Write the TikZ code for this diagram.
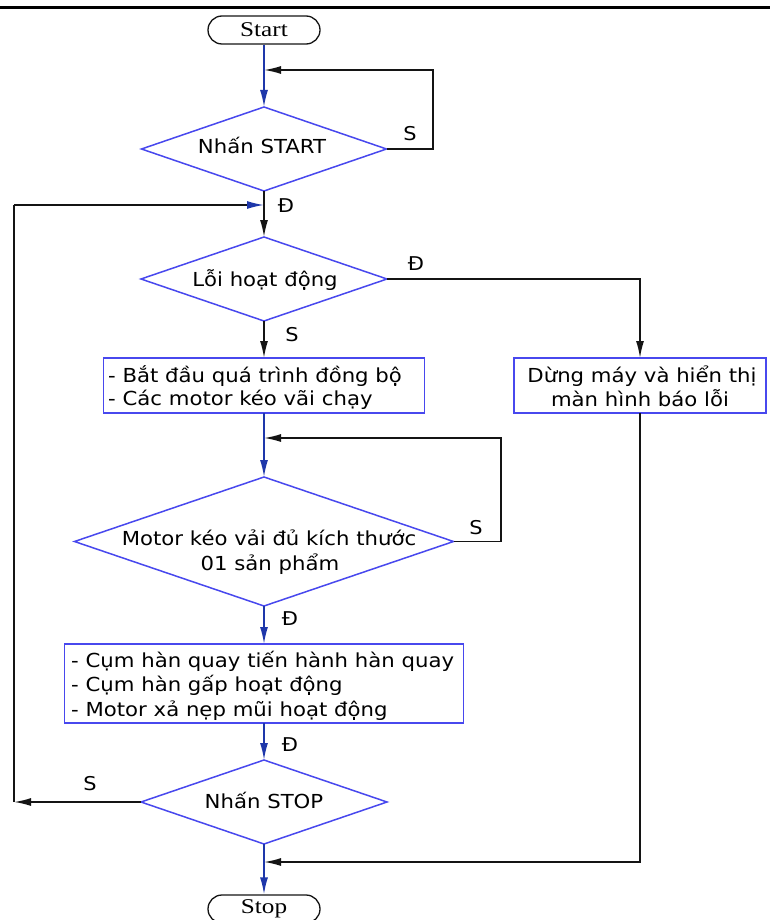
\documentclass[tikz,border=0pt]{standalone}
\usepackage{fontspec}
\setmainfont{DejaVu Sans}[FakeStretch=1.1]
\newfontfamily\termfont{Liberation Serif}[FakeStretch=1.2]
\usetikzlibrary{shapes.geometric,shapes.misc,arrows.meta}
\definecolor{lineblue}{RGB}{30,55,170}
\definecolor{shapeblue}{RGB}{72,72,238}
\definecolor{darkline}{RGB}{20,20,20}
\begin{document}
\begin{tikzpicture}[x=1pt,y=-1pt,
  txt/.style={font=\fontsize{19.3}{24}\selectfont, inner sep=0pt, text=black},
  lbl/.style={font=\fontsize{19}{22}\selectfont, inner sep=0pt, text=black},
  term/.style={rounded rectangle, draw=darkline, line width=1.3pt, fill=white, minimum width=112pt, minimum height=28pt, inner sep=0pt, font=\termfont\fontsize{21}{24}\selectfont},
  dia/.style={diamond, draw=shapeblue, line width=1.5pt, inner sep=0pt, outer sep=0pt},
  proc/.style={rectangle, draw=shapeblue, line width=1.5pt, inner sep=0pt, outer sep=0pt},
  flow/.style={draw=lineblue, line width=1.6pt, -{Latex[length=17pt,width=8pt]}},
  back/.style={draw=darkline, line width=1.6pt},
  tip/.style={-{Latex[length=17pt,width=8pt]}},
]
\fill[white] (0,0) rectangle (770,920);
\useasboundingbox (0,0) rectangle (770,920);
\clip (0,0) rectangle (770,920);
\draw[line width=3pt, black] (0,8) -- (770,8);

% nodes
\node[term] (start) at (264,30) {Start};
\node[dia, minimum width=245pt, minimum height=84pt] (d1) at (264,149) {};
\node[txt, anchor=base] (d1t) at (262,154) {Nhấn START};
\node[dia, minimum width=246pt, minimum height=84pt] (d2) at (264,279) {};
\node[txt, anchor=base] (d2t) at (265,286) {Lỗi hoạt động};
\node[proc, minimum width=321pt, minimum height=55pt] (b1) at (264,385.5) {};
\node[txt, anchor=base west] (b1a) at (108,382) {- Bắt đầu quá trình đồng bộ};
\node[txt, anchor=base west] (b1b) at (108,405) {- Các motor kéo vãi chạy};
\node[proc, minimum width=252pt, minimum height=55pt] (rb) at (640,385.5) {};
\node[txt, anchor=base] (rba) at (642,382) {Dừng máy và hiển thị};
\node[txt, anchor=base] (rbb) at (640,406) {màn hình báo lỗi};
\node[dia, minimum width=379pt, minimum height=129pt] (d3) at (264,541.5) {};
\node[txt, anchor=base] (d3a) at (269,545) {Motor kéo vải đủ kích thước};
\node[txt, anchor=base] (d3b) at (270,570) {01 sản phẩm};
\node[proc, minimum width=399pt, minimum height=79pt] (b2) at (264,683.5) {};
\node[txt, anchor=base west] (b2a) at (71,667) {- Cụm hàn quay tiến hành hàn quay};
\node[txt, anchor=base west] (b2b) at (71,691) {- Cụm hàn gấp hoạt động};
\node[txt, anchor=base west] (b2c) at (71,716) {- Motor xả nẹp mũi hoạt động};
\node[dia, minimum width=246pt, minimum height=84pt] (d4) at (264,802) {};
\node[txt, anchor=base] (d4t) at (264,808) {Nhấn STOP};
\node[term] (stop) at (264,909) {Stop};

% helper coordinates
\coordinate (j1) at (264,70);
\coordinate (c1) at (433,70);
\coordinate (j2) at (264,205);
\coordinate (c2) at (14,205);
\coordinate (c3) at (14,802);
\coordinate (c4) at (640,279);
\coordinate (j3) at (264,438);
\coordinate (c5) at (501,438);
\coordinate (j4) at (264,862);
\coordinate (c6) at (640,862);

% connectors
\draw[flow] (start.south) -- (d1.north);
\draw[back, tip] (d1.east) -| (c1) -- (j1);
\draw[back, tip] (d1.south) -- (d2.north);
\draw[back, tip] (d4.west) -- (c3);
\draw[back] (c3) -- (c2);
\draw[back, -{Latex[length=17pt,width=8pt,color=lineblue]}] (c2) -- (j2);
\draw[back, tip] (d2.east) -- (c4) -- (rb.north);
\draw[back, tip] (d2.south) -- (b1.north);
\draw[flow] (b1.south) -- (d3.north);
\draw[back, tip] (d3.east) -| (c5) -- (j3);
\draw[flow] (d3.south) -- (b2.north);
\draw[flow] (b2.south) -- (d4.north);
\draw[flow] (d4.south) -- (stop.north);
\draw[back, tip] (rb.south) -- (c6) -- (j4);

% labels
\node[lbl] (s1) at (410,134) {S};
\node[lbl] (e1) at (286,206) {Đ};
\node[lbl] (e2) at (416,264) {Đ};
\node[lbl] (s2) at (292,335) {S};
\node[lbl] (s3) at (476,528) {S};
\node[lbl] (e3) at (290,619) {Đ};
\node[lbl] (e4) at (290,745) {Đ};
\node[lbl] (s4) at (90,784) {S};
\end{tikzpicture}
\end{document}
